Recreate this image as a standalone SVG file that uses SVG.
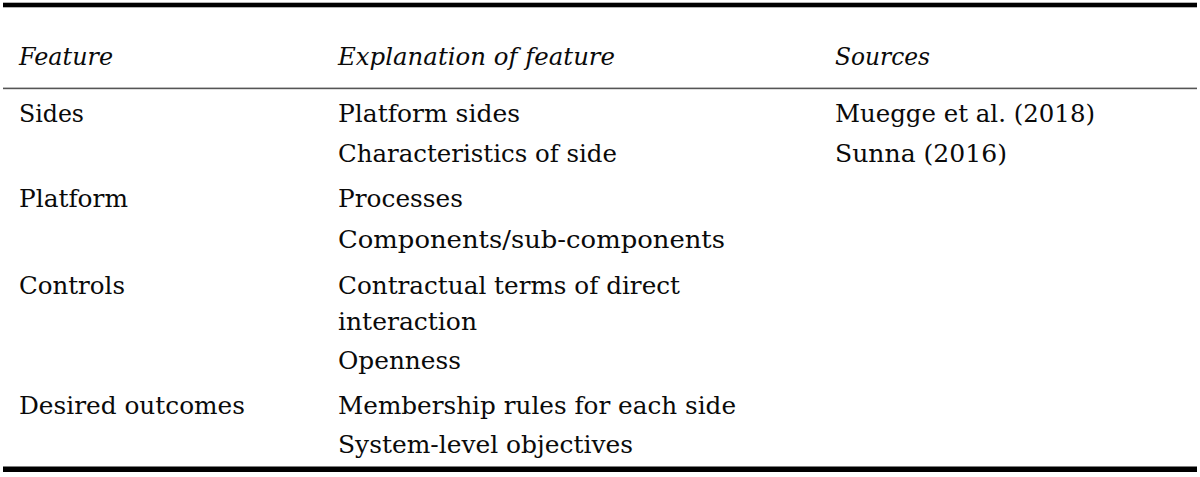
<svg xmlns="http://www.w3.org/2000/svg" width="1200" height="477" viewBox="0 0 1200 477">
<style>
text{font-family:"DejaVu Serif","Liberation Serif",serif;font-size:24.5px;fill:#0a0a0a}
.h{font-style:italic}
</style>
<rect width="1200" height="477" fill="#fff"/>
<g id="rules">
<rect x="3" y="2.7" width="1194" height="4.6" fill="#000"/>
<rect x="3" y="87.6" width="1194" height="1.6" fill="#555"/>
<rect x="3" y="466.5" width="1194" height="5.5" fill="#000"/>
</g>
<g id="header">
<text class="h" x="19" y="65" textLength="94" lengthAdjust="spacingAndGlyphs">Feature</text>
<text class="h" x="338" y="65" textLength="277" lengthAdjust="spacingAndGlyphs">Explanation of feature</text>
<text class="h" x="835" y="65" textLength="95" lengthAdjust="spacingAndGlyphs">Sources</text>
</g>
<g id="row-sides">
<text x="19" y="122" textLength="65" lengthAdjust="spacingAndGlyphs">Sides</text>
<text x="338" y="122" textLength="182" lengthAdjust="spacingAndGlyphs">Platform sides</text>
<text x="338" y="162" textLength="279" lengthAdjust="spacingAndGlyphs">Characteristics of side</text>
<text x="835" y="122" textLength="260" lengthAdjust="spacingAndGlyphs">Muegge et al. (2018)</text>
<text x="835" y="162" textLength="172" lengthAdjust="spacingAndGlyphs">Sunna (2016)</text>
</g>
<g id="row-platform">
<text x="19" y="207" textLength="109" lengthAdjust="spacingAndGlyphs">Platform</text>
<text x="338" y="207" textLength="125" lengthAdjust="spacingAndGlyphs">Processes</text>
<text x="338" y="248" textLength="387" lengthAdjust="spacingAndGlyphs">Components/sub-components</text>
</g>
<g id="row-controls">
<text x="19" y="294" textLength="106" lengthAdjust="spacingAndGlyphs">Controls</text>
<text x="338" y="294" textLength="342" lengthAdjust="spacingAndGlyphs">Contractual terms of direct</text>
<text x="338" y="330" textLength="139" lengthAdjust="spacingAndGlyphs">interaction</text>
<text x="338" y="369" textLength="123" lengthAdjust="spacingAndGlyphs">Openness</text>
</g>
<g id="row-outcomes">
<text x="19" y="414" textLength="226" lengthAdjust="spacingAndGlyphs">Desired outcomes</text>
<text x="338" y="414" textLength="398" lengthAdjust="spacingAndGlyphs">Membership rules for each side</text>
<text x="338" y="453" textLength="295" lengthAdjust="spacingAndGlyphs">System-level objectives</text>
</g>
</svg>
